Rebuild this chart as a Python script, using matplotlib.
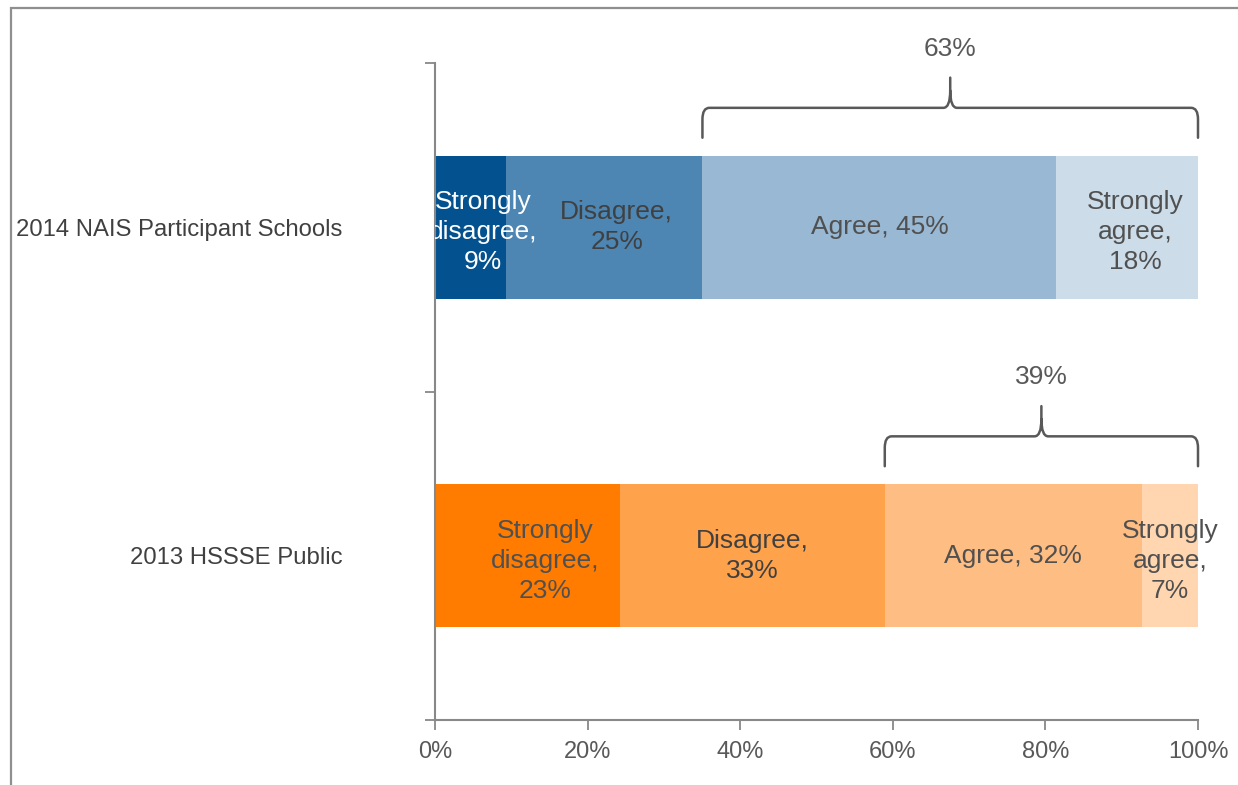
import numpy as np
import matplotlib.pyplot as plt
from matplotlib.path import Path
from matplotlib.patches import PathPatch, Rectangle
from matplotlib.ticker import FixedLocator, PercentFormatter

plt.rcParams['font.family'] = ['Liberation Sans', 'DejaVu Sans']

# survey responses, percent of students per answer
groups = ["2014 NAIS Participant Schools", "2013 HSSSE Public"]
levels = ["Strongly disagree", "Disagree", "Agree", "Strongly agree"]
nais = [9, 25, 45, 18]
hssse = [23, 33, 32, 7]
label_fmt = ["Strongly\ndisagree,\n{}%", "Disagree,\n{}%", "Agree, {}%", "Strongly\nagree,\n{}%"]

blues = ["#03528f", "#4d85b3", "#99b8d3", "#ccdce9"]
oranges = ["#ff7c00", "#ffa24c", "#febd82", "#ffd6b0"]
text_cols = [["white", "#404040", "#505050", "#505050"],
             ["#505050", "#404040", "#505050", "#505050"]]
# horizontal nudge of each segment label, in points
nudge = [[9, 9, 0, 6], [13, 0, 0, 0]]

grey = "#888888"
bar_h = 0.435

fig = plt.figure(figsize=(12.38, 7.85), dpi=100)
ax = fig.add_axes([435 / 1238, 1 - 720 / 785, 763 / 1238, 657 / 785])

# outer chart border (runs off the right and bottom edges)
fig.add_artist(Rectangle((11 / 1238, -0.2), 1.5, 1.2 - 7.5 / 785, transform=fig.transFigure,
                         fill=False, ec="#8f8f8f", lw=1.6))


def brace(ax, x0, x1, ybar, text):
    # curly brace over the bar from x0 to x1, opening downward
    y_end = ybar - 0.055
    y_h = ybar - 0.146
    y_tip = ybar - 0.238
    rx, ry = 0.9, 0.035
    xm = (x0 + x1) / 2
    verts = [(x0, y_end), (x0, y_h + ry), (x0, y_h), (x0 + rx, y_h),
             (xm - rx, y_h), (xm, y_h), (xm, y_h - ry * 1.5), (xm, y_tip),
             (xm, y_h - ry * 1.5), (xm, y_h), (xm + rx, y_h),
             (x1 - rx, y_h), (x1, y_h), (x1, y_h + ry), (x1, y_end)]
    codes = [Path.MOVETO, Path.LINETO, Path.CURVE3, Path.CURVE3,
             Path.LINETO, Path.CURVE3, Path.CURVE3, Path.LINETO,
             Path.MOVETO, Path.CURVE3, Path.CURVE3,
             Path.LINETO, Path.CURVE3, Path.CURVE3, Path.LINETO]
    ax.add_patch(PathPatch(Path(verts, codes), fill=False, ec="#595959", lw=1.8,
                           capstyle="round", joinstyle="round", clip_on=False))
    ax.text(xm, ybar - 0.326, text, ha="center", va="center", fontsize=19,
            color="#595959", clip_on=False)


for i, (vals, cols) in enumerate([(nais, blues), (hssse, oranges)]):
    vals = np.array(vals, dtype=float)
    shares = vals / vals.sum() * 100
    left = np.concatenate([[0], np.cumsum(shares)[:-1]])
    ax.barh(i, shares, left=left, height=bar_h, color=cols, edgecolor="none")
    for j in range(len(levels)):
        txt = label_fmt[j].format(int(vals[j]))
        dy = -3.5 if txt.count("\n") == 2 else 0
        ax.annotate(txt, (left[j] + shares[j] / 2, i), xytext=(nudge[i][j], dy),
                    textcoords="offset points", ha="center", va="center",
                    fontsize=19, color=text_cols[i][j], linespacing=1.31,
                    annotation_clip=False, clip_on=(j == 0))
    # bracket over the two "agree" answers
    brace(ax, left[2], 100, i - bar_h / 2, f"{int(vals[2] + vals[3])}%")

ax.set_xlim(0, 100)
ax.set_ylim(1.5, -0.5)

ax.xaxis.set_major_locator(FixedLocator(np.arange(0, 101, 20)))
ax.xaxis.set_major_formatter(PercentFormatter(decimals=0))
ax.tick_params(axis="x", length=7, width=1.3, color=grey, labelsize=17,
               labelcolor="#595959", pad=8)

ax.set_yticks([-0.5, 0.5, 1.5])
ax.set_yticklabels([])
ax.set_yticks([0, 1], minor=True)
ax.set_yticklabels(groups, minor=True)
ax.tick_params(axis="y", which="major", length=7, width=1.3, color=grey)
ax.tick_params(axis="y", which="minor", length=0, pad=93 * 72 / 100,
               labelsize=17.2, labelcolor="#404040")

for side in ["top", "right"]:
    ax.spines[side].set_visible(False)
for side in ["left", "bottom"]:
    ax.spines[side].set_color(grey)
    ax.spines[side].set_linewidth(1.5)

fig.savefig("out.png", dpi=100)
